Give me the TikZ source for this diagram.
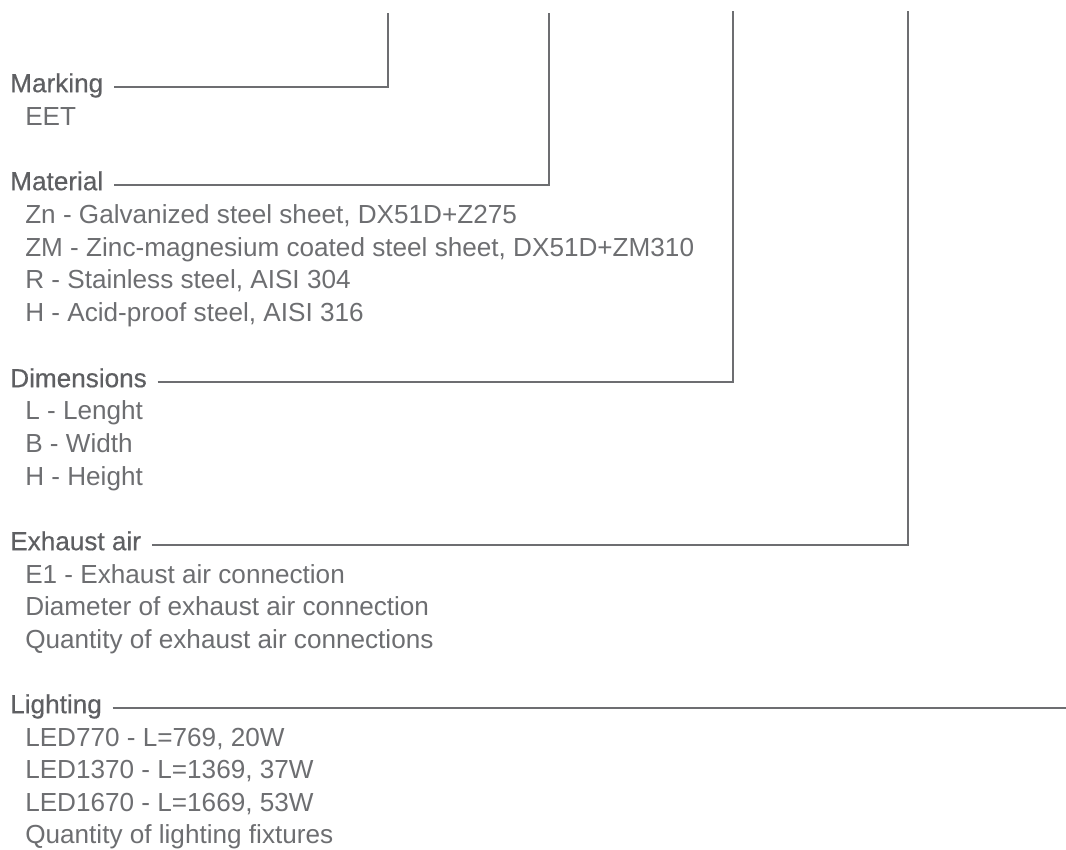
\documentclass[tikz,border=0pt]{standalone}
\usepackage{fontspec}
\setmainfont{Liberation Sans}
\newfontfamily\headfont[FakeBold=0.5]{Liberation Sans}
\usepackage{tikz}
\usetikzlibrary{positioning,calc}
\definecolor{txtgray}{HTML}{6D6E71}
\definecolor{headgray}{HTML}{5E5F62}
\tikzset{
  head/.style={anchor=west,inner sep=0pt,text height=0.85em,text depth=0.07em,
    font=\headfont\fontsize{19.6}{23}\selectfont,text=headgray},
  item/.style={anchor=west,inner sep=0pt,text height=0.85em,text depth=0.07em,
    font=\fontsize{19.6}{23}\selectfont,text=txtgray},
  conn/.style={draw=txtgray,line width=1.5pt}
}

\begin{document}
\begin{tikzpicture}[x=0.75pt,y=-0.75pt]
  \useasboundingbox (0,0) rectangle (1066,849);
  % headings and their items
  \node[head] (marking) at (10,87) {Marking};
  \node[item] (eet) at (25,120) {EET};

  \node[head] (material) at (10,185) {Material};
  \node[item] (zn) at (25,218) {Zn - Galvanized steel sheet, DX51D+Z275};
  \node[item] (zm) at (25,251) {ZM - Zinc-magnesium coated steel sheet, DX51D+ZM310};
  \node[item] (rst) at (25,283) {R - Stainless steel, AISI 304};
  \node[item] (hst) at (25,316) {H - Acid-proof steel, AISI 316};

  \node[head] (dimensions) at (10,382) {Dimensions};
  \node[item] (len) at (25,414) {L - Lenght};
  \node[item] (wid) at (25,447) {B - Width};
  \node[item] (hei) at (25,480) {H - Height};

  \node[head] (exhaust) at (10,545) {Exhaust air};
  \node[item] (eone) at (25,578) {E1 - Exhaust air connection};
  \node[item] (diam) at (25,610) {Diameter of exhaust air connection};
  \node[item] (qexh) at (25,643) {Quantity of exhaust air connections};

  \node[head] (lighting) at (10,708) {Lighting};
  \node[item] (ledA) at (25,741) {LED770 - L=769, 20W};
  \node[item] (ledB) at (25,773) {LED1370 - L=1369, 37W};
  \node[item] (ledC) at (25,806) {LED1670 - L=1669, 53W};
  \node[item] (qled) at (25,838) {Quantity of lighting fixtures};

  % leader lines
  \coordinate (mtop) at (388,13);
  \coordinate (ttop) at (549,13);
  \coordinate (dtop) at (733,11);
  \coordinate (etop) at (908,11);
  \coordinate (lend) at (1066,708);
  \draw[conn] ([xshift=8pt]marking.east) -| (mtop);
  \draw[conn] ([xshift=8pt]material.east) -| (ttop);
  \draw[conn] ([xshift=8pt]dimensions.east) -| (dtop);
  \draw[conn] ([xshift=8pt]exhaust.east) -| (etop);
  \draw[conn] ([xshift=8pt]lighting.east) -- (lend);
\end{tikzpicture}
\end{document}
